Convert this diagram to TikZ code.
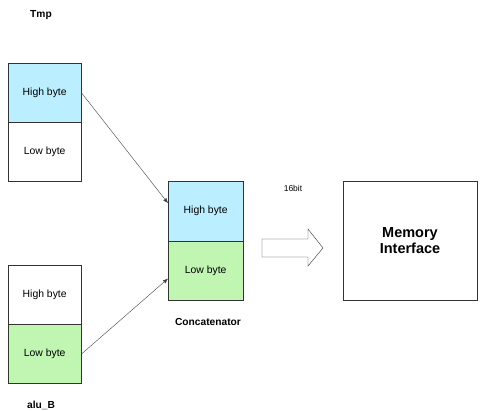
\documentclass[tikz,border=0pt]{standalone}
\usepackage{fontspec}
\setmainfont{Liberation Sans}
\usepackage{xcolor}
\usetikzlibrary{positioning,arrows.meta}
\definecolor{hibyte}{RGB}{187,238,255}
\definecolor{lobyte}{RGB}{192,245,178}

\begin{document}
\begin{tikzpicture}[x=1pt,y=-1pt,
    byte/.style={draw=black!80, minimum width=73pt, minimum height=59pt, inner sep=0pt, font=\fontsize{10.4}{12}\selectfont},
    title/.style={font=\bfseries\fontsize{10.2}{12}\selectfont},
    link/.style={-{Latex[length=5pt,width=4pt]}, draw=black!75}]
    \useasboundingbox (0,0) rectangle (480,411);

    % Tmp register
    \node[title] (tmplbl) at (41,15) {Tmp};
    \node[byte, fill=hibyte, anchor=north west] (tmphi) at (8,63) {High byte};
    \node[byte, below=0pt of tmphi] (tmplo) {Low byte};

    % alu_B register
    \node[byte, anchor=north west] (aluhi) at (8,265) {High byte};
    \node[byte, fill=lobyte, below=0pt of aluhi] (alulo) {Low byte};
    \node[title] (alulbl) at (41,405) {alu\_B};

    % Concatenator
    \node[byte, fill=hibyte, minimum width=75pt, minimum height=60pt, anchor=north west] (cathi) at (168,181) {High byte};
    \node[byte, fill=lobyte, minimum width=75pt, below=0pt of cathi] (catlo) {Low byte};
    \node[title] (catlbl) at (208,322) {Concatenator};

    % Memory interface
    \node[draw=black!80, minimum width=134pt, minimum height=119pt, align=center,
          font=\bfseries\fontsize{14.5}{16}\selectfont] (mem) at (410,240.5) {Memory\\Interface};

    % 16 bit bus
    \node[font=\fontsize{8.5}{10}\selectfont] (buslbl) at (293,188) {16bit};
    \draw[black!80, fill=white] (262,239) -- (308,239) -- (308,229) -- (323,248)
        -- (308,266) -- (308,257) -- (262,257) -- cycle;

    % links
    \draw[link] (tmphi.east) -- ([yshift=8pt]cathi.west);
    \draw[link] (alulo.east) -- ([yshift=-7.5pt]catlo.west);
\end{tikzpicture}
\end{document}
